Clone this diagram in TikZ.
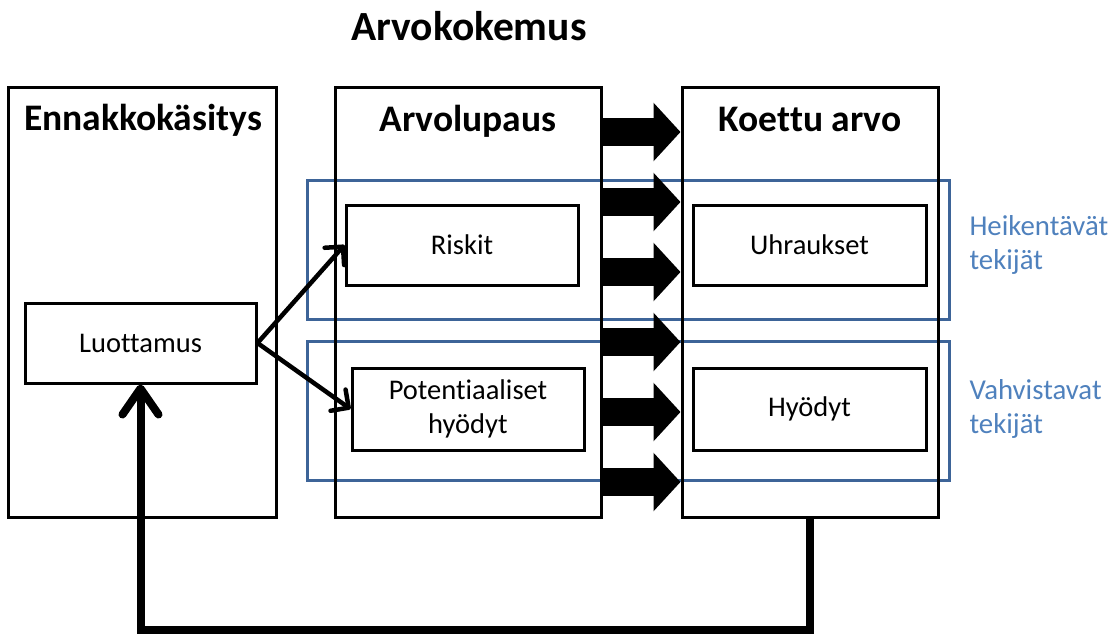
\documentclass[tikz,border=0pt]{standalone}
\usepackage{fontspec}
\setmainfont{Carlito}[Ligatures=NoCommon]
\usepackage{tikz}
\usetikzlibrary{arrows.meta,positioning}
\definecolor{frameblue}{HTML}{3D6498}
\definecolor{labelblue}{HTML}{4F81BD}

\begin{document}
\begin{tikzpicture}[x=1pt,y=-1pt,
      col/.style={draw,line width=3pt,minimum height=430pt},
      box/.style={draw,line width=3pt,minimum width=232pt,minimum height=80pt,align=center,font=\fontsize{28.5}{34}\selectfont},
      head/.style={anchor=base,font=\bfseries\fontsize{37.5}{42}\selectfont},
      group/.style={draw=frameblue,line width=3pt,minimum width=642pt,minimum height=139pt},
      side/.style={anchor=west,align=left,text=labelblue,font=\fontsize{28.8}{34}\selectfont},
      block/.style={line width=28pt,-{Triangle[length=27pt,width=57pt]}},
      post/.style={->,>={Straight Barb[round,length=13pt,width=26pt]},line width=4.5pt},
      back/.style={->,>={Straight Barb[round,length=26pt,width=36pt]},line width=8pt}
      ]
      \useasboundingbox (0,0) rectangle (1110,634);

      \node[group] (weakG) at (628,249.5) {};
      \node[group] (strongG) at (628,410.5) {};

      \node[col, minimum width=268pt] (enn) at (142,302) {};
      \node[col, minimum width=266pt] (arvo) at (468,302) {};
      \node[col, minimum width=256pt] (koe) at (810,302) {};

      \node[head, font=\bfseries\fontsize{41.5}{46}\selectfont] (title) at (469,41) {Arvokokemus};
      \node[head] (ennT) at (143,130) {Ennakkokäsitys};
      \node[head] (arvoT) at (468,131) {Arvolupaus};
      \node[head] (koeT) at (810,131) {Koettu arvo};

      \node[box, minimum width=231pt] (luot) at (140.5,343) {Luottamus};
      \node[box] (risk) at (462,245) {Riskit};
      \node[box, minimum height=82pt] (pot) at (468,409) {Potentiaaliset\\hyödyt};
      \node[box, minimum width=233pt] (uhr) at (809.5,245) {Uhraukset};
      \node[box, minimum width=233pt, minimum height=82pt] (hyo) at (809.5,409) {Hyödyt};

      \node[side] (weak) at (966,245) {Heikentävät\\tekijät};
      \node[side] (strong) at (966,409) {Vahvistavat\\tekijät};

      \foreach \y in {132,202,272,342,412,482}
        \draw[block] (arvo.east |- 0,\y) -- (koe.west |- 0,\y);

      \draw[post] (luot.east) -- (risk.west);
      \draw[post] (luot.east) -- (pot.west);

      \draw[back] (koe.south) -- (koe.south |- 0,630) -| (luot.south);
    \end{tikzpicture}
\end{document}
